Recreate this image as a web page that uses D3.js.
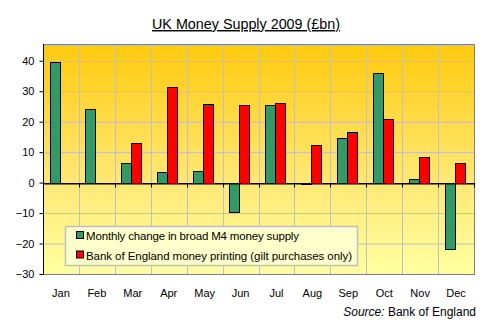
<!DOCTYPE html>
<html><head><meta charset="utf-8">
<script src="https://cdn.jsdelivr.net/npm/d3@7/dist/d3.min.js"></script>
<style>body{margin:0;background:#fff}svg{display:block;font-family:"Liberation Sans",Arial,sans-serif}</style>
</head><body><svg id="c" width="491" height="328"></svg>
<script>
const months = ["Jan","Feb","Mar","Apr","May","Jun","Jul","Aug","Sep","Oct","Nov","Dec"];
const m4Change = [39.7,24.3,6.5,3.6,3.9,-9.8,25.6,-0.3,14.5,36.1,1.3,-21.9];
const boePrinting = [0,0,13.1,31.5,25.9,25.6,26.0,12.4,16.7,21.0,8.5,6.6];
const yTicks = [-30,-20,-10,0,10,20,30,40];
const seriesNames = ["Monthly change in broad M4 money supply","Bank of England money printing (gilt purchases only)"];
const colors = ["#339966","#FF0000"];

const svg = d3.select("#c");
const L=43, R=474, T=44, B=274;
const x = d3.scaleBand().domain(months).range([L,R]).paddingInner(0).paddingOuter(0);
const y = d3.scaleLinear().domain([-30,45.5]).range([B,T]);

const defs = svg.append("defs");
const g = defs.append("linearGradient").attr("id","bg").attr("x1",0).attr("y1",0).attr("x2",0).attr("y2",1);
g.append("stop").attr("offset","0%").attr("stop-color","#FFCA0C");
g.append("stop").attr("offset","60%").attr("stop-color","#FFE875");
g.append("stop").attr("offset","100%").attr("stop-color","#FFFFA0");
svg.append("rect").attr("x",L).attr("y",T).attr("width",R-L).attr("height",B-T).attr("fill","url(#bg)");

// gridlines
svg.append("g").selectAll("line").data(yTicks.filter(d=>d!==-30 && d!==0)).join("line")
  .attr("x1",L).attr("x2",R).attr("y1",d=>y(d)+0.5).attr("y2",d=>y(d)+0.5)
  .attr("stroke","#C0C0C0").attr("stroke-width",1);
svg.append("g").selectAll("line").data(months.slice(1)).join("line")
  .attr("x1",d=>Math.round(x(d))+0.5).attr("x2",d=>Math.round(x(d))+0.5).attr("y1",T).attr("y2",B)
  .attr("stroke","#C0C0C0").attr("stroke-width",1);

// border top/right
svg.append("path").attr("d",`M${L},${T+0.5}H${R+0.5}V${B}`).attr("fill","none").attr("stroke","#808080");
svg.append("line").attr("x1",L).attr("x2",R+1).attr("y1",B+0.5).attr("y2",B+0.5).attr("stroke","#808080");

// bars
const bw = 10, off = 6.5;
const grp = svg.append("g");
months.forEach((m,i)=>{
  [m4Change[i], boePrinting[i]].forEach((v,s)=>{
    if (v===0) return;
    const x0 = Math.round(x(m)+off+s*bw)+0.5;
    const y0 = Math.round(y(Math.max(0,v)))+0.5, y1 = Math.round(y(Math.min(0,v)))+0.5;
    grp.append("rect").attr("x",x0).attr("y",y0).attr("width",bw).attr("height",Math.max(0.5,y1-y0))
      .attr("fill",colors[s]).attr("stroke","#000").attr("stroke-width",1);
  });
});

// zero axis line with ticks
const xa = svg.append("g").attr("transform",`translate(0,${Math.round(y(0))+0.5})`)
  .call(d3.axisBottom(x).tickValues([]).tickSizeOuter(0));
xa.select(".domain").attr("stroke","#000");
xa.selectAll(".t").data(months.concat(["end"])).join("line")
  .attr("x1",(d,i)=>Math.round(L+i*x.bandwidth())+0.5).attr("x2",(d,i)=>Math.round(L+i*x.bandwidth())+0.5)
  .attr("y1",0).attr("y2",4).attr("stroke","#000");
svg.append("line").attr("x1",L).attr("x2",R+1).attr("y1",Math.round(y(0))+0.5).attr("y2",Math.round(y(0))+0.5).attr("stroke","#000");

// y axis
const ya = svg.append("g").attr("transform",`translate(${L+0.5},0)`)
  .call(d3.axisLeft(y).tickValues(yTicks).tickSize(4).tickSizeOuter(0).tickPadding(5));
ya.select(".domain").attr("stroke","#000").attr("d",`M0,${T}V${B+1}`);
ya.selectAll(".tick line").attr("stroke","#000");
ya.selectAll(".tick text").attr("font-size",11).attr("fill","#000").attr("font-family","Liberation Sans, Arial, sans-serif");

// x labels
svg.append("g").selectAll("text").data(months).join("text")
  .attr("x",d=>x(d)+x.bandwidth()/2).attr("y",297).attr("text-anchor","middle")
  .attr("font-size",11).text(d=>d);

// title
svg.append("text").attr("x",152).attr("y",29).attr("font-size",14.5)
  .attr("text-decoration","underline").attr("textLength",188).attr("lengthAdjust","spacingAndGlyphs")
  .text("UK Money Supply 2009 (£bn)");

// source
const src = svg.append("text").attr("x",476).attr("y",316).attr("text-anchor","end").attr("font-size",12);
src.append("tspan").attr("font-style","italic").text("Source:");
src.append("tspan").text("  Bank of England");

// legend
const lg = svg.append("g");
lg.append("rect").attr("x",65.5).attr("y",226.5).attr("width",292).attr("height",39)
  .attr("fill","#FFFFCC").attr("stroke","#C0C0C0").attr("stroke-width",1.5);
const legW = [213, 266];
seriesNames.forEach((n,i)=>{
  const cy = 236 + i*19.5;
  lg.append("rect").attr("x",76.5).attr("y",cy-4.5).attr("width",7).attr("height",7)
    .attr("fill",colors[i]).attr("stroke","#000");
  lg.append("text").attr("x",86).attr("y",cy+4).attr("font-size",11.5)
    .attr("textLength",legW[i]).attr("lengthAdjust","spacing").text(n);
});
</script></body></html>
